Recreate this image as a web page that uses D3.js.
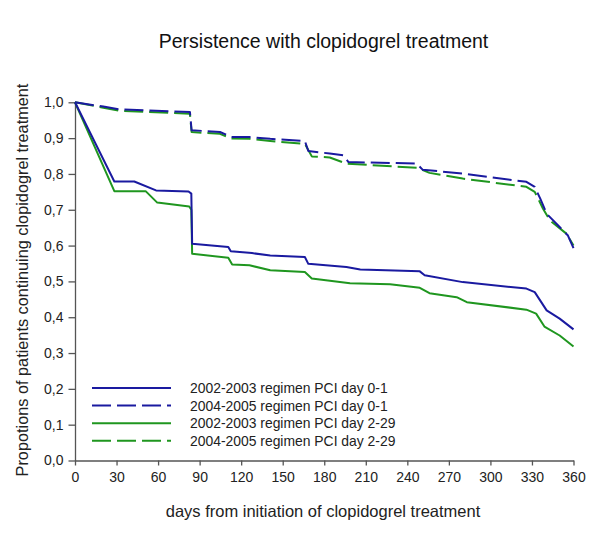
<!DOCTYPE html>
<html>
<head>
<meta charset="utf-8">
<script src="https://cdn.jsdelivr.net/npm/d3@7"></script>
<style>
  html, body { margin: 0; padding: 0; background: #fff; }
  svg { display: block; font-family: "Liberation Sans", Arial, sans-serif; }
</style>
</head>
<body>
<div id="chart"></div>
<script>
// ---- data ----
const title = "Persistence with clopidogrel treatment";
const xLabel = "days from initiation of clopidogrel treatment";
const yLabel = "Propotions of patients continuing clopidogrel treatment";
const xTicks = [0, 30, 60, 90, 120, 150, 180, 210, 240, 270, 300, 330, 360];
const yTicks = [0, 0.1, 0.2, 0.3, 0.4, 0.5, 0.6, 0.7, 0.8, 0.9, 1.0];

const seriesNames = [
  "2002-2003 regimen PCI day 0-1",
  "2004-2005 regimen PCI day 0-1",
  "2002-2003 regimen PCI day 2-29",
  "2004-2005 regimen PCI day 2-29"
];

// 2002-2003 regimen PCI day 0-1 (solid blue)
const days1 = [0, 28.4, 42.8, 58.5, 82, 84, 84.6, 110.7, 112.5, 127.8, 141, 166, 168.5, 196, 206, 249, 252.5, 280, 326, 332, 340.6, 350, 360];
const vals1 = [1.0, 0.779, 0.779, 0.754, 0.751, 0.745, 0.605, 0.596, 0.584, 0.579, 0.572, 0.568, 0.549, 0.540, 0.533, 0.528, 0.517, 0.498, 0.480, 0.470, 0.419, 0.396, 0.366];

// 2004-2005 regimen PCI day 0-1 (dashed blue)
const days2 = [0, 20.5, 32.5, 83, 84.2, 104.7, 113, 126, 141, 166, 168.5, 184, 193.6, 197.5, 246.7, 251, 280, 326, 332, 336, 340.6, 350, 356, 360];
const vals2 = [1.0, 0.988, 0.980, 0.973, 0.922, 0.917, 0.903, 0.903, 0.898, 0.892, 0.864, 0.857, 0.852, 0.833, 0.829, 0.812, 0.801, 0.778, 0.764, 0.731, 0.689, 0.652, 0.628, 0.593];

// 2002-2003 regimen PCI day 2-29 (solid green)
const days3 = [0, 28.4, 51, 59.4, 82.5, 84, 84.6, 110.7, 113.5, 126, 141, 166, 171, 198.6, 227.5, 249, 256, 275.6, 283, 326, 333, 339, 350, 360];
const vals3 = [1.0, 0.752, 0.752, 0.720, 0.709, 0.700, 0.577, 0.566, 0.547, 0.545, 0.531, 0.526, 0.508, 0.495, 0.492, 0.482, 0.467, 0.456, 0.442, 0.421, 0.410, 0.374, 0.349, 0.318];

// 2004-2005 regimen PCI day 2-29 (dashed green)
const days4 = [0, 20.5, 32.5, 83, 84.2, 104.7, 113, 126, 141, 166, 171, 184, 196, 247, 256, 280, 326, 332, 338, 343, 355, 360];
const vals4 = [1.0, 0.985, 0.976, 0.968, 0.917, 0.912, 0.899, 0.898, 0.892, 0.884, 0.849, 0.846, 0.829, 0.817, 0.803, 0.787, 0.764, 0.750, 0.703, 0.670, 0.633, 0.600];

const seriesDays = [days1, days2, days3, days4];
const seriesVals = [vals1, vals2, vals3, vals4];
const seriesColors = ["#1a1aa0", "#1a1aa0", "#1f961f", "#1f961f"];
const seriesDashed = [false, true, false, true];

// ---- layout ----
const W = 600, H = 560;
const x0 = 75, x1 = 573.5, yTop = 102.3, yBot = 460.5;

const svg = d3.select("#chart").append("svg").attr("width", W).attr("height", H);

const x = d3.scaleLinear().domain([0, 360]).range([x0, x1]);
const y = d3.scaleLinear().domain([0, 1]).range([yBot, yTop]);

const loc = d3.formatLocale({decimal: ",", thousands: ".", grouping: [3], currency: ["", ""]});
const fmtY = loc.format(".1f");

// title
svg.append("text").attr("x", 323.5).attr("y", 48).attr("text-anchor", "middle")
  .attr("font-size", 19.5).attr("fill", "#111").text(title);

// axes
const axisColor = "#555";
const gx = svg.append("g").attr("transform", `translate(0,${yBot})`)
  .call(d3.axisBottom(x).tickValues(xTicks).tickSize(5).tickSizeOuter(0).tickPadding(7).tickFormat(d3.format("d")));
const gy = svg.append("g").attr("transform", `translate(${x0},0)`)
  .call(d3.axisLeft(y).tickValues(yTicks).tickSize(6.5).tickSizeOuter(0).tickPadding(5).tickFormat(fmtY));
[gx, gy].forEach(g => {
  g.select(".domain").attr("stroke", axisColor).attr("stroke-width", 1.3);
  g.selectAll(".tick line").attr("stroke", axisColor).attr("stroke-width", 1.3);
  g.selectAll(".tick text").attr("font-size", 14).attr("fill", "#222")
    .attr("font-family", "'Liberation Sans', Arial, sans-serif");
});

// axis labels
svg.append("text").attr("x", 323).attr("y", 517).attr("text-anchor", "middle")
  .attr("font-size", 16.5).attr("fill", "#222").text(xLabel);
svg.append("text").attr("transform", "translate(28,280) rotate(-90)").attr("text-anchor", "middle")
  .attr("font-size", 16.3).attr("fill", "#222").text(yLabel);

// lines
const line = d3.line().x(d => x(d[0])).y(d => y(d[1]));
const drawOrder = [3, 1, 2, 0];
drawOrder.forEach(i => {
  const pts = seriesDays[i].map((d, k) => [d, seriesVals[i][k]]);
  svg.append("path").datum(pts).attr("d", line)
    .attr("fill", "none").attr("stroke", seriesColors[i]).attr("stroke-width", 2)
    .attr("stroke-linejoin", "round")
    .attr("stroke-dasharray", seriesDashed[i] ? "19,6" : null);
});

// legend
const lg = svg.append("g");
seriesNames.forEach((name, i) => {
  const yy = 388 + i * 17.6;
  lg.append("line").attr("x1", 92).attr("x2", 171).attr("y1", yy).attr("y2", yy)
    .attr("stroke", seriesColors[i]).attr("stroke-width", 2)
    .attr("stroke-dasharray", seriesDashed[i] ? "19,6" : null);
  lg.append("text").attr("x", 190).attr("y", yy + 5).attr("font-size", 13.9)
    .attr("fill", "#222").text(name);
});
</script>
</body>
</html>
